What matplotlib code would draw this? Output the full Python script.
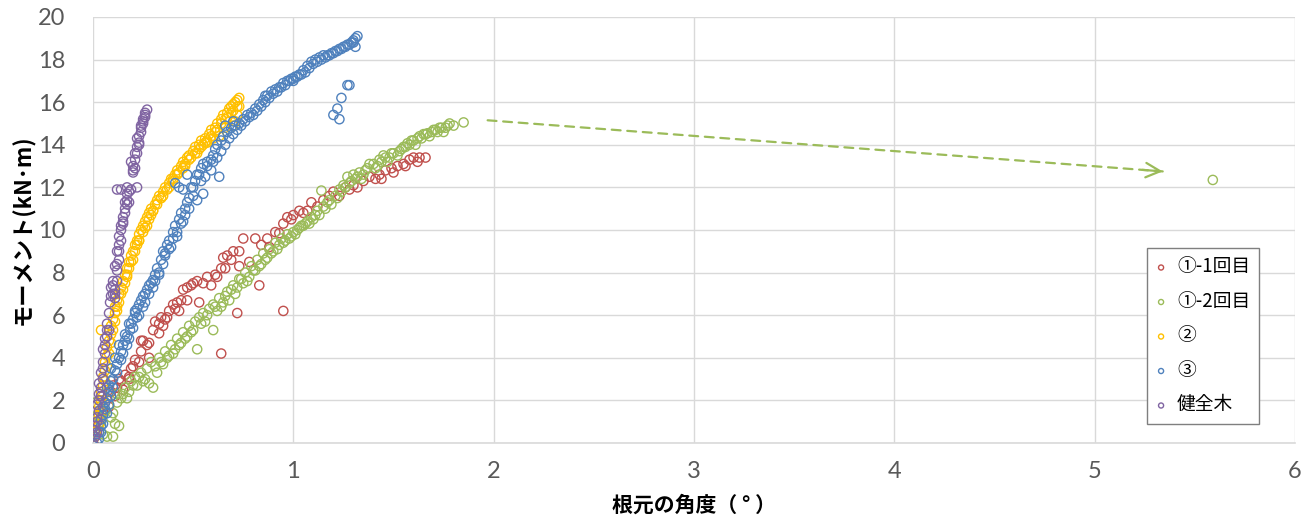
import matplotlib
matplotlib.use("Agg")
import matplotlib.pyplot as plt

plt.rcParams['font.family'] = ['Noto Sans CJK JP', 'DejaVu Sans']

# ①-1回目
x_r1 = [0.00, 0.01, 0.02, 0.03, 0.04, 0.05, 0.06, 0.07, 0.09, 0.10, 0.12, 0.13, 0.15, 0.16, 0.18, 0.19,
        0.21, 0.23, 0.24, 0.25, 0.27, 0.28, 0.30, 0.31, 0.33, 0.34, 0.36, 0.38, 0.40, 0.42, 0.44, 0.43,
        0.45, 0.47, 0.49, 0.52, 0.55, 0.57, 0.59, 0.62, 0.64, 0.65, 0.67, 0.70, 0.73, 0.75, 0.81, 0.72,
        0.64, 0.83, 0.95, 0.78, 0.84, 0.87, 0.88, 0.91, 0.93, 0.95, 0.97, 1.00, 1.03, 1.07, 1.09, 1.12,
        1.15, 1.18, 1.20, 1.23, 1.26, 1.30, 1.32, 1.35, 1.38, 1.41, 1.43, 1.46, 1.49, 1.52, 1.55, 1.58,
        1.60, 1.63, 1.66, 0.24, 0.28, 0.33, 0.37, 0.47, 0.53, 0.66, 0.73, 0.18, 0.20, 0.11, 0.08, 0.14,
        0.35, 0.41, 0.50, 0.61, 0.69, 0.99, 1.05, 1.28, 1.44, 1.50, 1.56, 1.62]
y_r1 = [0.0, 0.3, 0.6, 0.9, 1.2, 1.5, 1.9, 2.1, 2.4, 2.7, 2.6, 3.0, 2.5, 3.2, 3.1, 3.5,
        3.9, 3.8, 4.3, 4.8, 4.6, 4.7, 5.3, 5.7, 5.6, 5.9, 5.8, 6.2, 6.5, 6.6, 6.7, 6.2,
        7.2, 7.3, 7.4, 7.6, 7.5, 7.8, 7.4, 7.8, 8.2, 8.7, 8.8, 9.0, 9.0, 9.6, 9.6, 6.1,
        4.2, 7.4, 6.2, 8.5, 9.3, 9.6, 9.2, 9.9, 9.85, 10.3, 10.6, 10.7, 10.9, 10.9, 11.3, 11.1,
        11.4, 11.6, 11.8, 11.6, 12.0, 12.1, 12.0, 12.3, 12.5, 12.4, 12.6, 12.8, 12.9, 13.0, 13.1, 13.3,
        13.4, 13.4, 13.4, 4.8, 4.0, 5.15, 5.9, 6.7, 6.6, 8.2, 8.3, 3.0, 3.6, 2.2, 1.7, 2.9,
        5.5, 6.3, 7.5, 7.9, 8.6, 10.5, 10.8, 11.9, 12.4, 12.7, 13.0, 13.2]

# ①-2回目
x_r2 = [0.00, 0.01, 0.00, 0.02, 0.01, 0.03, 0.05, 0.07, 0.10, 0.11, 0.13, 0.06, 0.08, 0.10, 0.12, 0.12,
        0.14, 0.16, 0.18, 0.19, 0.21, 0.22, 0.24, 0.25, 0.27, 0.28, 0.29, 0.30, 0.31, 0.33, 0.35, 0.36,
        0.38, 0.39, 0.41, 0.42, 0.44, 0.45, 0.47, 0.48, 0.50, 0.52, 0.51, 0.53, 0.55, 0.56, 0.58, 0.60,
        0.60, 0.62, 0.63, 0.65, 0.67, 0.68, 0.70, 0.71, 0.73, 0.75, 0.76, 0.78, 0.79, 0.81, 0.82, 0.84,
        0.85, 0.87, 0.88, 0.90, 0.91, 0.93, 0.94, 0.96, 0.97, 0.99, 1.00, 1.02, 1.03, 1.05, 1.06, 1.08,
        1.09, 1.11, 1.12, 1.14, 1.15, 1.17, 1.18, 1.21, 1.23, 1.25, 1.27, 1.29, 1.31, 1.33, 1.35, 1.37,
        1.38, 1.41, 1.43, 1.45, 1.47, 1.49, 1.50, 1.53, 1.55, 1.57, 1.59, 1.61, 1.63, 1.65, 1.67, 1.69,
        1.71, 1.73, 1.75, 1.77, 1.78, 1.80, 1.85, 5.59,
        0.04, 0.09, 0.15, 0.17, 0.20, 0.23, 0.26, 0.32, 0.34, 0.37, 0.40, 0.43, 0.46, 0.49, 0.54, 0.57,
        0.61, 0.64, 0.66, 0.69, 0.72, 0.74, 0.77, 0.80, 0.83, 0.86, 0.89, 0.92, 0.95, 0.98, 1.01, 1.04,
        1.07, 1.10, 1.13, 1.16, 1.19, 1.22, 1.24, 1.26, 1.28, 1.30, 1.32, 1.34, 1.36, 1.40, 1.42, 1.44,
        1.46, 1.48, 1.52, 1.54, 1.56, 1.58, 1.60, 1.62, 1.64, 1.66, 1.68, 1.70, 1.72, 1.74, 1.76]
y_r2 = [0.0, 0.5, 0.9, 1.3, 1.9, 2.0, 0.4, 0.3, 0.3, 0.9, 0.8, 1.5, 1.8, 1.4, 1.9, 2.3,
        2.1, 2.6, 2.4, 2.9, 3.1, 2.7, 3.3, 2.9, 3.5, 2.8, 3.8, 2.6, 3.6, 4.0, 3.7, 4.3,
        4.1, 4.6, 4.4, 4.9, 4.7, 5.2, 5.0, 5.5, 5.3, 4.4, 5.7, 5.9, 6.1, 5.7, 6.3, 5.3,
        6.5, 6.2, 6.8, 6.6, 7.1, 6.7, 7.4, 7.0, 7.7, 7.5, 8.0, 7.8, 8.3, 8.1, 8.6, 8.4,
        8.9, 8.7, 9.1, 9.0, 9.4, 9.3, 9.6, 9.5, 9.8, 9.7, 9.9, 10.0, 10.1, 10.2, 10.3, 10.3,
        10.6, 10.7, 10.9, 11.85, 11.1, 11.3, 11.4, 11.6, 11.9, 12.1, 12.5, 12.3, 12.4, 12.7, 12.6, 12.9,
        13.1, 12.9, 13.3, 13.5, 13.2, 13.6, 13.6, 13.7, 13.9, 14.07, 14.2, 14.0, 14.4, 14.5, 14.54, 14.6,
        14.7, 14.8, 14.6, 14.9, 15.0, 14.9, 15.05, 12.35,
        1.0, 1.2, 2.3, 2.1, 2.7, 3.1, 3.0, 3.3, 3.8, 4.0, 4.2, 4.6, 4.9, 5.2, 5.6, 6.0,
        6.4, 6.4, 6.9, 7.2, 7.3, 7.7, 7.6, 8.1, 8.3, 8.6, 8.9, 9.1, 9.4, 9.6, 9.8, 10.2,
        10.4, 10.5, 10.7, 11.0, 11.2, 11.5, 11.8, 12.0, 12.2, 12.6, 12.5, 12.4, 12.8, 13.1, 13.0, 13.2,
        13.4, 13.4, 13.5, 13.8, 13.9, 14.0, 14.2, 14.3, 14.3, 14.5, 14.4, 14.7, 14.6, 14.8, 14.8]

# ②
x_2 = [0.00, 0.01, 0.02, 0.02, 0.03, 0.03, 0.04, 0.04, 0.05, 0.05, 0.06, 0.06, 0.07, 0.07, 0.08, 0.09,
       0.04, 0.09, 0.10, 0.11, 0.11, 0.12, 0.13, 0.14, 0.15, 0.16, 0.17, 0.18, 0.19, 0.20, 0.21, 0.22,
       0.23, 0.24, 0.25, 0.26, 0.27, 0.28, 0.29, 0.31, 0.32, 0.33, 0.35, 0.36, 0.38, 0.39, 0.41, 0.42,
       0.44, 0.45, 0.47, 0.48, 0.50, 0.51, 0.53, 0.54, 0.56, 0.58, 0.59, 0.61, 0.62, 0.64, 0.65, 0.67,
       0.68, 0.69, 0.70, 0.71, 0.72, 0.73, 0.73, 0.72, 0.71, 0.70, 0.52, 0.55, 0.57, 0.60, 0.63, 0.66,
       0.12, 0.14, 0.17, 0.20, 0.23, 0.27, 0.30, 0.34, 0.40, 0.46,
       0.03, 0.04, 0.05, 0.06, 0.07, 0.08, 0.09, 0.10, 0.11, 0.12, 0.13, 0.15, 0.16, 0.17, 0.18, 0.19,
       0.21, 0.22, 0.23, 0.25, 0.26, 0.28, 0.29, 0.30, 0.32, 0.34, 0.35, 0.37, 0.38, 0.40, 0.42, 0.43,
       0.45, 0.46, 0.48, 0.49, 0.51, 0.53, 0.54, 0.56, 0.57, 0.59, 0.61, 0.62, 0.64, 0.66, 0.67, 0.69,
       0.70, 0.72]
y_2 = [0.0, 0.3, 0.6, 1.0, 1.3, 1.7, 2.0, 2.4, 2.7, 3.1, 3.4, 3.8, 4.1, 4.5, 4.8, 5.1,
       5.3, 5.5, 5.8, 6.1, 6.4, 6.7, 7.0, 7.3, 7.6, 7.9, 8.2, 8.5, 8.8, 9.0, 9.3, 9.5,
       9.8, 10.0, 10.2, 10.4, 10.6, 10.8, 11.0, 11.2, 11.4, 11.6, 11.8, 12.0, 12.2, 12.4, 12.6, 12.8,
       13.0, 13.2, 13.4, 13.5, 13.7, 13.9, 14.0, 14.2, 14.3, 14.5, 14.7, 14.8, 15.0, 15.2, 15.4, 15.5,
       15.7, 15.8, 15.9, 16.0, 16.1, 16.2, 15.8, 15.4, 15.1, 14.9, 13.6, 14.0, 14.1, 14.3, 14.4, 14.8,
       6.4, 7.0, 7.8, 8.6, 9.5, 10.2, 10.9, 11.5, 12.4, 13.1,
       0.8, 1.5, 2.2, 2.9, 3.6, 4.2, 4.7, 5.3, 5.7, 6.2, 6.6, 7.2, 7.5, 7.9, 8.2, 8.5,
       9.0, 9.3, 9.5, 9.9, 10.1, 10.5, 10.7, 10.9, 11.2, 11.5, 11.6, 11.9, 12.0, 12.3, 12.6, 12.7,
       12.9, 13.0, 13.3, 13.4, 13.6, 13.8, 13.9, 14.1, 14.2, 14.4, 14.6, 14.7, 15.0, 15.2, 15.3, 15.5,
       15.6, 15.8]

# ③
x_3 = [0.02, 0.03, 0.03, 0.04, 0.04, 0.05, 0.06, 0.06, 0.07, 0.08, 0.08, 0.09, 0.10, 0.11, 0.12, 0.13,
       0.14, 0.15, 0.16, 0.17, 0.185, 0.19, 0.20, 0.21, 0.22, 0.23, 0.24, 0.25, 0.27, 0.28, 0.30, 0.31,
       0.32, 0.34, 0.35, 0.37, 0.38, 0.40, 0.41, 0.43, 0.44, 0.46, 0.47, 0.48, 0.50, 0.51, 0.52, 0.54,
       0.55, 0.57, 0.59, 0.60, 0.61, 0.62, 0.64, 0.65, 0.67, 0.69, 0.71, 0.73, 0.75, 0.77, 0.79, 0.81,
       0.83, 0.85, 0.87, 0.89, 0.91, 0.93, 0.95, 0.97, 0.99, 1.01, 1.03, 1.05, 1.07, 1.09, 1.11, 1.13,
       1.15, 1.17, 1.19, 1.21, 1.23, 1.25, 1.27, 1.29, 1.30, 1.31, 1.32, 1.31, 1.27, 1.28, 1.24, 1.22,
       1.20, 1.23, 0.41, 0.43, 0.45, 0.47, 0.49, 0.54, 0.56, 0.59, 0.63, 0.55, 0.52, 0.09, 0.11, 0.13,
       0.16, 0.18, 0.21, 0.26, 0.29, 0.33, 0.36, 0.39, 0.42, 0.45, 0.05, 0.07, 0.66, 0.70, 0.86, 1.00,
       0.04, 0.05, 0.07, 0.08, 0.09, 0.10, 0.12, 0.14, 0.15, 0.17, 0.18, 0.20, 0.22, 0.23, 0.25, 0.26,
       0.28, 0.30, 0.31, 0.33, 0.35, 0.36, 0.38, 0.40, 0.42, 0.44, 0.46, 0.48, 0.50, 0.53, 0.57, 0.60,
       0.62, 0.64, 0.66, 0.68, 0.70, 0.72, 0.74, 0.76, 0.78, 0.80, 0.82, 0.84, 0.86, 0.88, 0.90, 0.92,
       0.94, 0.96, 0.98, 1.00, 1.02, 1.04, 1.06, 1.08, 1.10, 1.12, 1.14, 1.16, 1.18, 1.20, 1.22, 1.24,
       1.26, 1.28, 1.30]
y_3 = [0.0, 0.2, 0.5, 0.8, 1.1, 1.3, 1.6, 1.9, 2.1, 2.4, 2.7, 2.9, 3.0, 3.4, 3.7, 4.0,
       4.3, 4.6, 4.8, 5.0, 5.3, 5.6, 5.8, 6.1, 6.3, 6.5, 6.7, 6.9, 7.2, 7.4, 7.65, 7.9,
       8.2, 8.6, 9.0, 9.3, 9.5, 9.9, 10.2, 10.5, 10.8, 11.0, 11.3, 11.5, 12.0, 12.3, 12.6, 12.9,
       13.1, 13.2, 13.3, 13.5, 13.8, 14.0, 14.2, 14.4, 14.6, 14.8, 14.9, 15.0, 15.2, 15.4, 15.5, 15.7,
       15.9, 16.1, 16.3, 16.5, 16.6, 16.7, 16.9, 17.0, 17.1, 17.2, 17.3, 17.5, 17.7, 17.9, 18.0, 18.1,
       18.2, 18.2, 18.3, 18.4, 18.5, 18.6, 18.7, 18.8, 18.9, 19.0, 19.1, 18.6, 16.8, 16.8, 16.2, 15.7,
       15.4, 15.2, 12.2, 12.0, 11.9, 12.6, 12.0, 12.3, 12.5, 12.8, 12.5, 11.7, 11.4, 3.5, 4.0, 4.6,
       5.1, 5.6, 6.2, 7.0, 7.5, 8.0, 8.9, 9.2, 9.7, 10.4, 1.7, 2.6, 14.9, 15.1, 16.3, 17.0,
       0.5, 0.9, 1.4, 1.8, 2.2, 2.6, 3.3, 3.9, 4.2, 4.6, 4.9, 5.4, 5.9, 6.0, 6.4, 6.6,
       7.0, 7.3, 7.6, 7.9, 8.4, 8.8, 9.1, 9.6, 9.9, 10.3, 10.7, 11.0, 11.6, 12.6, 13.0, 13.2,
       13.4, 13.7, 14.0, 14.3, 14.5, 14.7, 14.9, 15.1, 15.3, 15.4, 15.6, 15.8, 16.0, 16.2, 16.4, 16.5,
       16.7, 16.8, 17.0, 17.1, 17.2, 17.3, 17.4, 17.6, 17.8, 17.9, 18.0, 18.1, 18.2, 18.3, 18.4, 18.5,
       18.6, 18.7, 18.8]

# 健全木
x_h = [0.00, 0.01, 0.01, 0.02, 0.02, 0.02, 0.03, 0.03, 0.03, 0.04, 0.04, 0.05, 0.05, 0.05, 0.06, 0.06,
       0.07, 0.07, 0.08, 0.085, 0.09, 0.10, 0.10, 0.11, 0.11, 0.12, 0.12, 0.11, 0.13, 0.12, 0.13, 0.14,
       0.13, 0.14, 0.15, 0.15, 0.16, 0.16, 0.17, 0.17, 0.18, 0.12, 0.14, 0.17, 0.19, 0.22, 0.20, 0.20,
       0.21, 0.21, 0.22, 0.22, 0.23, 0.23, 0.24, 0.24, 0.25, 0.25, 0.26, 0.26, 0.27,
       0.01, 0.02, 0.03, 0.04, 0.05, 0.06, 0.07, 0.08, 0.09, 0.10, 0.11, 0.12, 0.13, 0.14, 0.15, 0.16,
       0.17, 0.18, 0.19, 0.20, 0.21, 0.22, 0.23, 0.24, 0.25, 0.26]
y_h = [0.0, 0.3, 0.8, 0.5, 1.2, 1.8, 1.5, 2.3, 2.8, 2.6, 3.3, 3.0, 3.8, 4.4, 4.2, 4.9,
       5.0, 5.6, 5.3, 6.6, 6.9, 7.0, 7.4, 7.2, 6.8, 7.6, 8.1, 8.3, 8.6, 9.0, 9.3, 9.5,
       9.7, 10.0, 10.3, 10.6, 10.8, 11.0, 11.2, 11.4, 11.3, 11.9, 11.9, 12.0, 11.9, 12.0, 12.7, 13.0,
       12.9, 13.3, 13.6, 13.9, 14.1, 14.4, 14.6, 14.8, 15.0, 15.2, 15.4, 15.5, 15.65,
       0.6, 1.0, 2.0, 2.2, 3.5, 4.6, 5.3, 6.1, 7.3, 7.6, 7.0, 8.4, 9.0, 10.2, 10.4, 11.3,
       11.7, 11.8, 13.2, 12.8, 13.6, 14.3, 14.0, 14.9, 15.1, 15.3]

series = [
    ('①-1回目', x_r1, y_r1, '#C0504D'),
    ('①-2回目', x_r2, y_r2, '#9BBB59'),
    ('②', x_2, y_2, '#FFC000'),
    ('③', x_3, y_3, '#4F81BD'),
    ('健全木', x_h, y_h, '#8064A2'),
]

# 破断後の移動を示す矢印
arrow_from = (1.97, 15.15)
arrow_to = (5.34, 12.75)

fig = plt.figure(figsize=(13.1, 5.24), dpi=100)
ax = fig.add_axes([0.071, 0.1546, 0.9175, 0.813])

for name, xs, ys, c in series:
    ax.scatter(xs, ys, s=44, facecolors='none', edgecolors=c, linewidths=1.0, label=name, zorder=3)

# 破線部分と矢じりを分けて描く
ax.annotate('', xy=arrow_to, xytext=arrow_from,
            arrowprops=dict(arrowstyle='-', linestyle=(0, (4, 3)), color='#9BBB59', lw=1.6,
                            shrinkA=0, shrinkB=0))
head_start = (arrow_from[0] + 0.97 * (arrow_to[0] - arrow_from[0]),
              arrow_from[1] + 0.97 * (arrow_to[1] - arrow_from[1]))
ax.annotate('', xy=arrow_to, xytext=head_start,
            arrowprops=dict(arrowstyle='->', color='#9BBB59', lw=1.6, mutation_scale=26,
                            shrinkA=0, shrinkB=0))

ax.set_xlim(0, 6)
ax.set_ylim(0, 20)
ax.set_xticks(range(0, 7))
ax.set_yticks(range(0, 21, 2))
ax.grid(True, color='#d9d9d9', linewidth=1.0, zorder=0)
ax.set_axisbelow(True)
for s in ['top', 'right', 'left']:
    ax.spines[s].set_visible(False)
ax.spines['bottom'].set_color('#d9d9d9')
ax.spines['bottom'].set_linewidth(1.2)
ax.tick_params(length=0, labelsize=17, labelcolor='#595959')
ax.tick_params(axis='y', pad=20)
ax.tick_params(axis='x', pad=13)
for lab in ax.get_xticklabels() + ax.get_yticklabels():
    lab.set_family('Lato')

ax.set_xlabel('根元の角度（ ° ）', fontsize=15, fontweight='bold', labelpad=9)
ax.set_ylabel('モーメント(kN･m)', fontsize=16, fontweight='bold', labelpad=2)

leg = ax.legend(loc='upper left', bbox_to_anchor=(1147 / 1310, 1 - 248 / 524),
                bbox_transform=fig.transFigure, fontsize=13.5, markerscale=0.55,
                frameon=True, fancybox=False, edgecolor='#7f7f7f', framealpha=1,
                handlelength=0.6, handletextpad=0.55, labelspacing=0.72, borderpad=0.45,
                borderaxespad=0)
leg.get_frame().set_linewidth(1.0)

fig.savefig('out.png', dpi=100)
